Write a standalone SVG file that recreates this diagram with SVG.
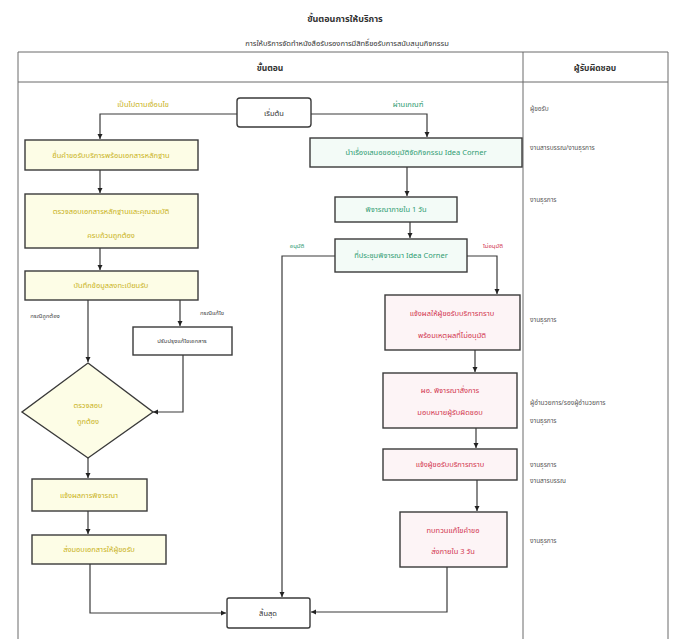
<svg xmlns="http://www.w3.org/2000/svg" width="678" height="639" viewBox="0 0 678 639">
<defs>
<style>
text{font-family:"Noto Sans Thai","Noto Sans","DejaVu Sans",sans-serif;text-anchor:middle}
.grid{stroke:#6a6a6a;stroke-width:1;fill:none}
.box{stroke:#3a3a3a;stroke-width:1.4}
.y{fill:#fdfde6}
.g{fill:#f3fbf7}
.r{fill:#fdf4f6}
.w{fill:#ffffff}
.ty{fill:#c9b21a;font-size:7.5px}
.tg{fill:#2f9b72;font-size:7.5px}
.tr{fill:#d2354f;font-size:7.5px}
.tk{fill:#333;font-size:7.5px}
.ts{fill:#444;font-size:6px}
.tres{fill:#555;font-size:6.5px;text-anchor:start}
.conn path{stroke:#3a3a3a;stroke-width:1.2;fill:none}
</style>
<marker id="arr" markerWidth="6" markerHeight="6" refX="5" refY="3" orient="auto" markerUnits="userSpaceOnUse">
<path d="M0,0.5 L5,3 L0,5.5 Z" fill="#222"/>
</marker>
</defs>
<rect width="678" height="639" fill="#ffffff"/>

<!-- title -->
<text x="345" y="22" style="font-size:9px;font-weight:bold;fill:#333">ขั้นตอนการให้บริการ</text>
<text x="347" y="46" style="font-size:7.5px;fill:#333">การให้บริการจัดทำหนังสือรับรองการมีสิทธิ์ขอรับการสนับสนุนกิจกรรม</text>

<!-- table frame -->
<g id="table">
<path class="grid" d="M18,52 H668 M18,82 H668 M18,52 V639 M523,52 V639 M668,52 V639"/>
<text x="270" y="71" style="font-size:8.5px;font-weight:bold;fill:#333">ขั้นตอน</text>
<text x="595" y="71" style="font-size:8.5px;font-weight:bold;fill:#333">ผู้รับผิดชอบ</text>
</g>

<!-- responsibility column -->
<g id="responsible">
<text class="tres" x="530" y="111">ผู้ขอรับ</text>
<text class="tres" x="530" y="150">งานสารบรรณ/งานธุรการ</text>
<text class="tres" x="530" y="202">งานธุรการ</text>
<text class="tres" x="530" y="322">งานธุรการ</text>
<text class="tres" x="530" y="405">ผู้อำนวยการ/รองผู้อำนวยการ</text>
<text class="tres" x="530" y="423">งานธุรการ</text>
<text class="tres" x="530" y="467">งานธุรการ</text>
<text class="tres" x="530" y="483">งานสารบรรณ</text>
<text class="tres" x="530" y="543">งานธุรการ</text>
</g>

<!-- connectors -->
<g id="connectors" class="conn">
<path d="M237,114 H100 V139" marker-end="url(#arr)"/>
<path d="M311,114 H427 V137" marker-end="url(#arr)"/>
<path d="M100,170 V193" marker-end="url(#arr)"/>
<path d="M100,248 V270" marker-end="url(#arr)"/>
<path d="M88,300 V362" marker-end="url(#arr)"/>
<path d="M180,300 V326" marker-end="url(#arr)"/>
<path d="M183,355 V412 H153" marker-end="url(#arr)"/>
<path d="M88,458 V478" marker-end="url(#arr)"/>
<path d="M88,511 V534" marker-end="url(#arr)"/>
<path d="M90,564 V613 H226" marker-end="url(#arr)"/>
<path d="M407,167 V196" marker-end="url(#arr)"/>
<path d="M410,222 V238" marker-end="url(#arr)"/>
<path d="M335,256 H282 V597" marker-end="url(#arr)"/>
<path d="M467,256 H497 V294" marker-end="url(#arr)"/>
<path d="M475,350 V372" marker-end="url(#arr)"/>
<path d="M476,428 V448" marker-end="url(#arr)"/>
<path d="M477,480 V511" marker-end="url(#arr)"/>
<path d="M447,567 V612 H311" marker-end="url(#arr)"/>
</g>

<!-- connector labels -->
<g id="labels">
<text class="ty" x="143" y="107">เป็นไปตามเงื่อนไข</text>
<text class="tg" x="408" y="107">ผ่านเกณฑ์</text>
<text class="ts" x="45" y="318">กรณีถูกต้อง</text>
<text class="ts" x="212" y="315">กรณีแก้ไข</text>
<text class="tg" x="297" y="248" style="font-size:6px">อนุมัติ</text>
<text class="tr" x="493" y="248" style="font-size:6px">ไม่อนุมัติ</text>
</g>

<g id="start">
<rect class="box w" x="237" y="98" width="74" height="29" rx="3"/>
<text class="tk" x="274" y="116">เริ่มต้น</text>
</g>

<g id="submit">
<rect class="box y" x="25" y="140" width="173" height="30"/>
<text class="ty" x="111" y="158">ยื่นคำขอรับบริการพร้อมเอกสารหลักฐาน</text>
</g>

<g id="check-docs">
<rect class="box y" x="25" y="194" width="173" height="54"/>
<text class="ty" x="111" y="214">ตรวจสอบเอกสารหลักฐานและคุณสมบัติ</text>
<text class="ty" x="111" y="238">ครบถ้วนถูกต้อง</text>
</g>

<g id="register">
<rect class="box y" x="25" y="271" width="173" height="29"/>
<text class="ty" x="111" y="288">บันทึกข้อมูลลงทะเบียนรับ</text>
</g>

<g id="revise">
<rect class="box w" x="133" y="327" width="99" height="28"/>
<text class="ts" x="182" y="343">ปรับปรุงแก้ไขเอกสาร</text>
</g>

<g id="decision">
<polygon class="box y" points="88,363 153,412 88,458 22,412"/>
<text class="ty" x="88" y="408">ตรวจสอบ</text>
<text class="ty" x="88" y="424">ถูกต้อง</text>
</g>

<g id="notify">
<rect class="box y" x="32" y="479" width="115" height="32"/>
<text class="ty" x="89" y="498">แจ้งผลการพิจารณา</text>
</g>

<g id="deliver">
<rect class="box y" x="32" y="535" width="134" height="29"/>
<text class="ty" x="99" y="552">ส่งมอบเอกสารให้ผู้ขอรับ</text>
</g>

<g id="propose">
<rect class="box g" x="310" y="138" width="212" height="29"/>
<text class="tg" x="416" y="155">นำเรื่องเสนอขออนุมัติจัดกิจกรรม Idea Corner</text>
</g>

<g id="review">
<rect class="box g" x="335" y="197" width="122" height="25"/>
<text class="tg" x="396" y="212">พิจารณาภายใน 1 วัน</text>
</g>

<g id="corner">
<rect class="box g" x="335" y="239" width="132" height="33"/>
<text class="tg" x="401" y="258">ที่ประชุมพิจารณา Idea Corner</text>
</g>

<g id="reject-notice">
<rect class="box r" x="385" y="295" width="135" height="55"/>
<text class="tr" x="452" y="316">แจ้งผลให้ผู้ขอรับบริการทราบ</text>
<text class="tr" x="452" y="338">พร้อมเหตุผลที่ไม่อนุมัติ</text>
</g>

<g id="director">
<rect class="box r" x="383" y="373" width="134" height="55"/>
<text class="tr" x="450" y="393">ผอ. พิจารณาสั่งการ</text>
<text class="tr" x="450" y="415">มอบหมายผู้รับผิดชอบ</text>
</g>

<g id="inform">
<rect class="box r" x="383" y="449" width="134" height="31"/>
<text class="tr" x="450" y="467">แจ้งผู้ขอรับบริการทราบ</text>
</g>

<g id="resubmit">
<rect class="box r" x="400" y="512" width="107" height="55"/>
<text class="tr" x="453" y="533">ทบทวนแก้ไขคำขอ</text>
<text class="tr" x="453" y="554">ส่งภายใน 3 วัน</text>
</g>

<g id="end">
<rect class="box w" x="227" y="598" width="83" height="30" rx="2"/>
<text class="tk" x="268" y="616">สิ้นสุด</text>
</g>
</svg>
